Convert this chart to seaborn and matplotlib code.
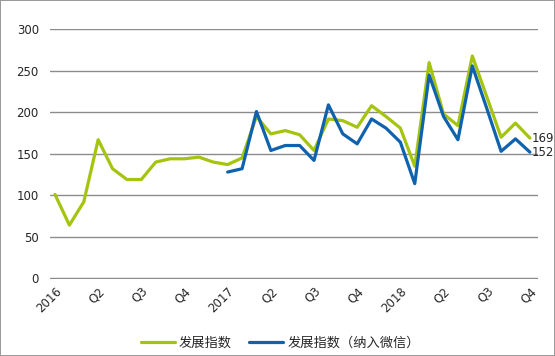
import numpy as np
import pandas as pd
import seaborn as sns
import matplotlib.pyplot as plt

# monthly index, Jan 2016 .. Oct 2018
tick_labels = ["2016", "Q2", "Q3", "Q4", "2017", "Q2", "Q3", "Q4", "2018", "Q2", "Q3", "Q4"]
dev_index = [101, 64, 92, 167, 132, 119, 119, 140, 144, 144, 146, 140,
             137, 145, 195, 174, 178, 173, 154, 192, 190, 182, 208, 195,
             181, 135, 260, 198, 184, 268, 219, 170, 187, 169]
dev_index_wx = [None] * 12 + [128, 132, 201, 154, 160, 160, 142, 209, 174, 162,
                              192, 181, 164, 114, 245, 195, 167, 256, 205, 153, 168, 152]
series_names = ["发展指数", "发展指数（纳入微信）"]
colors = ["#A5C40F", "#0F62AD"]

months = np.arange(len(dev_index))
df = pd.concat([
    pd.DataFrame({"month": months, "value": dev_index, "series": series_names[0]}),
    pd.DataFrame({"month": months, "value": dev_index_wx, "series": series_names[1]}),
]).dropna()

sns.set_style("white")
plt.rcParams["font.family"] = ["DejaVu Sans", "Noto Sans CJK SC"]

fig = plt.figure(figsize=(5.55, 3.56), dpi=100)
fig.patch.set_edgecolor("#9a9a9a")
fig.patch.set_linewidth(1.2)
ax = fig.add_axes([0.090, 0.2163, 0.879, 0.7022])

sns.lineplot(data=df, x="month", y="value", hue="series", palette=colors,
             linewidth=2.3, ax=ax, legend=False)

ax.set_ylim(-1, 300.5)
ax.set_xlim(-0.35, 33.55)
ax.set_yticks(range(0, 301, 50))
ax.yaxis.grid(True, color="#8c8c8c", linewidth=1)
ax.set_axisbelow(True)
for s in ax.spines.values():
    s.set_visible(False)
ax.tick_params(axis="both", length=0, labelsize=8.5)
ax.tick_params(axis="y", pad=8)
ax.tick_params(axis="x", pad=4)
ax.set_xticks(months[::3])
ax.set_xticklabels(tick_labels, rotation=45, ha="right", rotation_mode="anchor")
ax.set_xlabel("")
ax.set_ylabel("")

# end-point value labels
ax.text(months[-1] + 0.1, dev_index[-1], str(dev_index[-1]), fontsize=8.5, va="center")
ax.text(months[-1] + 0.1, dev_index_wx[-1], str(dev_index_wx[-1]), fontsize=8.5, va="center")

handles = [plt.Line2D([], [], color=c, linewidth=2.3) for c in colors]
fig.legend(handles, series_names, loc="center", bbox_to_anchor=(0.505, 0.036),
           ncol=2, frameon=False, handlelength=2.6, columnspacing=1.3,
           handletextpad=0.3, prop={"family": ["Noto Sans CJK SC"], "size": 9.5})

fig.savefig("out.png", dpi=100)
